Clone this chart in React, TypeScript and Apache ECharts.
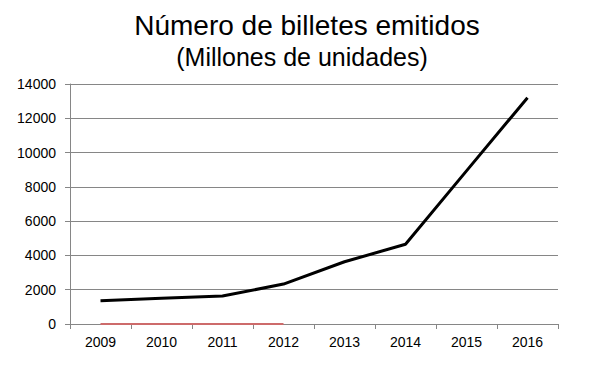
import React, { useEffect, useRef } from "react";
import * as echarts from "echarts";

const categories = ["2009", "2010", "2011", "2012", "2013", "2014", "2015", "2016"];
const billetes = [1360, 1500, 1630, 2330, 3630, 4650, 8930, 13200];
const secondSeries = [0, 0, 0, 0, null, null, null, null];
const yTicks = { min: 0, max: 14000, interval: 2000 };

export default function App() {
  const ref = useRef<HTMLDivElement>(null);
  useEffect(() => {
    if (!ref.current) return;
    const chart = echarts.init(ref.current, null, { renderer: "svg" });
    chart.setOption({
      animation: false,
      backgroundColor: "#ffffff",
      title: [
        {
          text: "Número de billetes emitidos",
          left: 302,
          textAlign: "center",
          top: 6,
          textStyle: { fontFamily: "Liberation Sans, Arial", fontSize: 28, fontWeight: "normal", color: "#000" },
        },
        {
          text: "(Millones de unidades)",
          left: 297,
          textAlign: "center",
          top: 39,
          textStyle: { fontFamily: "Liberation Sans, Arial", fontSize: 25, fontWeight: "normal", color: "#000" },
        },
      ],
      grid: { left: 70, right: 54, top: 84, bottom: 44, containLabel: false },
      xAxis: {
        type: "category",
        data: categories,
        boundaryGap: true,
        axisLine: { lineStyle: { color: "#868686", width: 1 } },
        axisTick: { show: true, length: 5, lineStyle: { color: "#868686" }, interval: 0 },
        axisLabel: { color: "#000", fontSize: 14, fontFamily: "Liberation Sans, Arial", margin: 11, interval: 0 },
      },
      yAxis: {
        type: "value",
        min: yTicks.min,
        max: yTicks.max,
        interval: yTicks.interval,
        axisLine: { show: true, lineStyle: { color: "#868686", width: 1 } },
        axisTick: { show: true, length: 5, lineStyle: { color: "#868686" } },
        axisLabel: {
          color: "#000",
          fontSize: 14,
          fontFamily: "Liberation Sans, Arial",
          margin: 14,
          formatter: (v: number) => String(v),
        },
        splitLine: { lineStyle: { color: "#868686", width: 1 } },
      },
      series: [
        {
          type: "line",
          data: secondSeries,
          symbol: "none",
          lineStyle: { color: "#cd6b6b", width: 2 },
          z: 3,
        },
        {
          type: "line",
          data: billetes,
          symbol: "none",
          lineStyle: { color: "#000", width: 3 },
          z: 4,
        },
      ],
    });
    return () => chart.dispose();
  }, []);
  return <div ref={ref} style={{ width: 612, height: 368, position: "absolute", left: 0, top: 0 }} />;
}
